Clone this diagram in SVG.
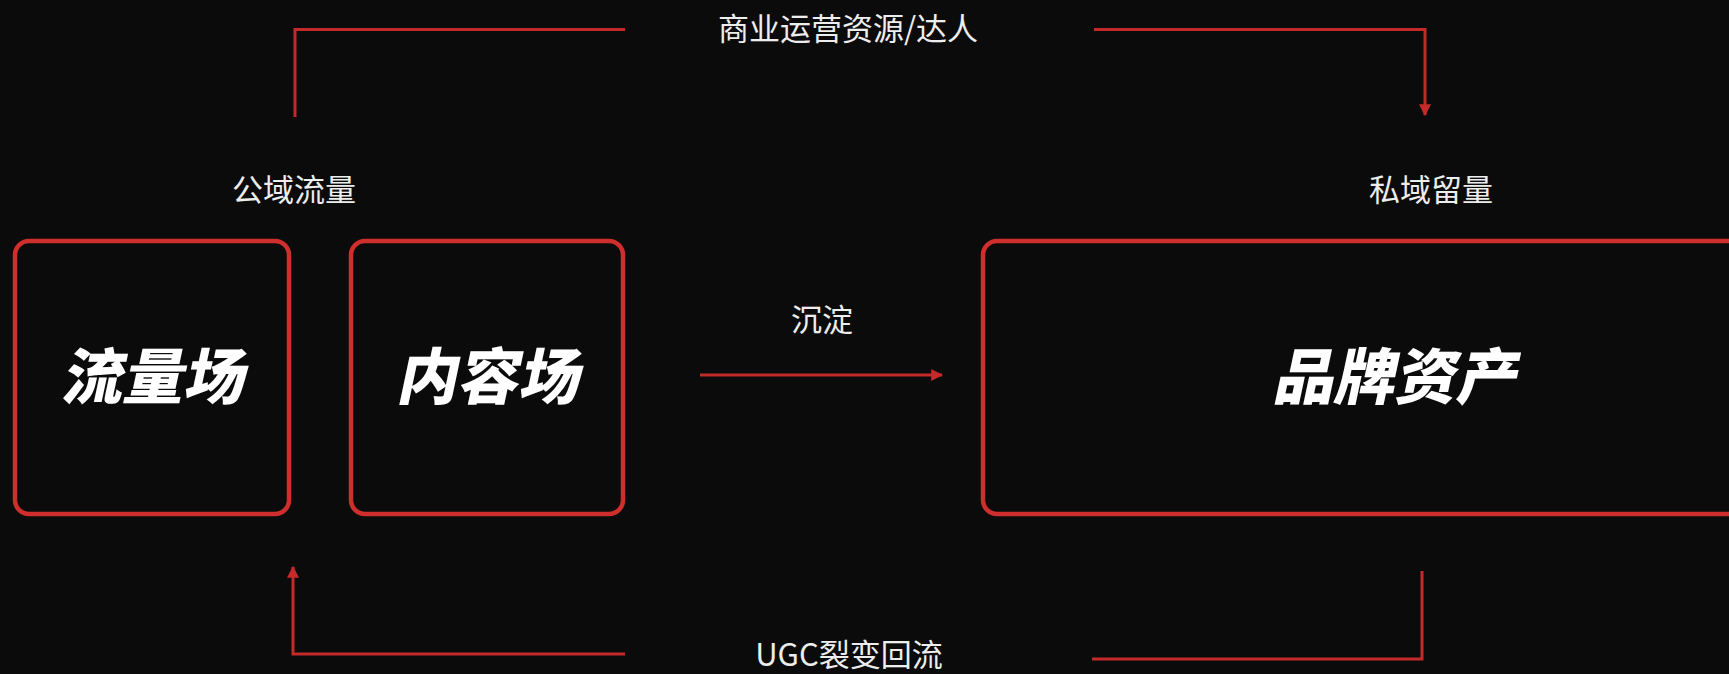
<svg xmlns="http://www.w3.org/2000/svg" width="1729" height="674" viewBox="0 0 1729 674">
<defs>
<style>
.box{fill:#0b0b0b;stroke:#cf2f2c;stroke-width:4.5}
.conn{fill:none;stroke:#c42a2a;stroke-width:3}
.lbl{font-family:"Noto Sans CJK SC","Noto Sans",sans-serif;font-size:31px;fill:#ededed;text-anchor:middle}
.big{font-family:"Noto Sans CJK SC",sans-serif;font-weight:900;font-size:61px;fill:#ffffff;text-anchor:middle}
</style>
<marker id="ah" viewBox="0 0 10 10" refX="9" refY="5" markerWidth="4" markerHeight="4" orient="auto" markerUnits="strokeWidth">
<path d="M0,0 L10,5 L0,10 z" fill="#c42a2a"/>
</marker>
</defs>
<rect width="1729" height="674" fill="#0b0b0b"/>
<g id="connectors">
<path class="conn" d="M295,117 V29.5 H625"/>
<path class="conn" d="M1094,29.5 H1425 V115" marker-end="url(#ah)"/>
<path class="conn" d="M700,375 H942" marker-end="url(#ah)"/>
<path class="conn" d="M1422,571 V659 H1092"/>
<path class="conn" d="M625,654 H293 V567" marker-end="url(#ah)"/>
</g>
<g id="label-top"><text class="lbl" x="848" y="40">商业运营资源/达人</text></g>
<g id="label-public"><text class="lbl" x="294" y="201">公域流量</text></g>
<g id="label-private"><text class="lbl" x="1431" y="201">私域留量</text></g>
<g id="label-settle"><text class="lbl" x="822" y="331">沉淀</text></g>
<g id="label-ugc"><text class="lbl" x="849" y="666">UGC裂变回流</text></g>
<g id="node-traffic">
<rect class="box" x="15" y="241" width="274" height="273" rx="14"/>
<text class="big" transform="translate(152,399) skewX(-12)">流量场</text>
</g>
<g id="node-content">
<rect class="box" x="351" y="241" width="272" height="273" rx="14"/>
<text class="big" transform="translate(487,399) skewX(-12)">内容场</text>
</g>
<g id="node-brand">
<rect class="box" x="983" y="241" width="780" height="273" rx="14"/>
<text class="big" transform="translate(1394,399) skewX(-12)">品牌资产</text>
</g>
</svg>
